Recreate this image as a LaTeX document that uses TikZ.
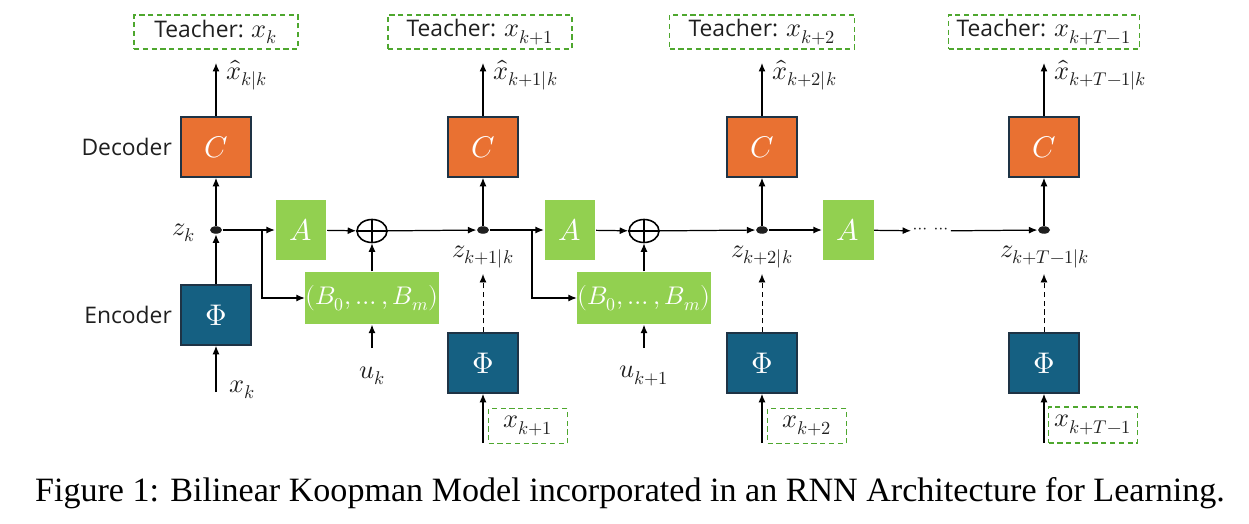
\documentclass[tikz,border=0pt]{standalone}
\usepackage{amsmath}
\usepackage{fontspec}
\usepackage{unicode-math}
\setmainfont{Liberation Serif}
\setsansfont{Open Sans}
\setmathfont{Latin Modern Math}
\usetikzlibrary{arrows.meta, positioning, shapes.geometric}
\definecolor{decOrange}{HTML}{E97132}
\definecolor{encBlue}{HTML}{156082}
\definecolor{koopGreen}{HTML}{92D050}
\definecolor{teachGreen}{HTML}{4EA72E}
\definecolor{boxEdge}{HTML}{1E3345}
\definecolor{mainBlack}{gray}{0.12}
\newcommand{\mbig}[1]{{\fontsize{15}{17}\selectfont$#1$}}

\begin{document}
\begin{tikzpicture}[x=0.02cm, y=-0.02cm, >={Latex[length=1.7mm,width=1.4mm]},
    line width=0.7pt, font=\sffamily\fontsize{13}{15}\selectfont,
    decbox/.style={draw=boxEdge, line width=0.9pt, fill=decOrange, text=white, minimum width=1.4cm, minimum height=1.2cm, font=\fontsize{17}{19}\selectfont},
    encbox/.style={draw=boxEdge, line width=0.9pt, fill=encBlue, text=white, minimum width=1.4cm, minimum height=1.2cm, font=\fontsize{17}{19}\selectfont},
    abox/.style={fill=koopGreen, text=white, minimum width=1.02cm, minimum height=1.22cm, font=\fontsize{17}{19}\selectfont},
    bbox/.style={fill=koopGreen, text=white, minimum width=2.44cm, minimum height=1.04cm, inner sep=0pt, font=\fontsize{14.5}{17}\selectfont},
    teacher/.style={draw=teachGreen, densely dashed, line width=0.9pt, text=mainBlack, minimum height=0.68cm, inner sep=2pt},
    junction/.style={ellipse, fill=mainBlack, inner sep=0pt, minimum width=0.24cm, minimum height=0.15cm},
    adder/.style={ellipse, draw, line width=0.9pt, minimum width=0.6cm, minimum height=0.46cm, inner sep=0pt},
    lbl/.style={text=mainBlack, inner sep=1pt, font=\fontsize{15}{17}\selectfont}]
    \useasboundingbox (0,0) rectangle (1249,524);

    % Teacher targets
    \node[teacher, minimum width=3.28cm] (T1) at (216,32) {Teacher: \mbig{x_k}};
    \node[teacher, minimum width=3.68cm] (T2) at (480,32) {Teacher: \mbig{x_{k+1}}};
    \node[teacher, minimum width=3.70cm] (T3) at (762,32) {Teacher: \mbig{x_{k+2}}};
    \node[teacher, minimum width=3.82cm] (T4) at (1044,32) {Teacher: \mbig{x_{k+T-1}}};

    % Decoders
    \node[decbox] (C1) at (216,147) {$C$};
    \node[decbox] (C2) at (483,147) {$C$};
    \node[decbox] (C3) at (762,147) {$C$};
    \node[decbox] (C4) at (1044,147) {$C$};
    \node[lbl, font=\sffamily\fontsize{13}{15}\selectfont, left=0.12cm of C1] (dec) {Decoder};

    % Latent states
    \node[junction] (J1) at (216,230) {};
    \node[junction] (J2) at (483,230) {};
    \node[junction] (J3) at (762,230) {};
    \node[junction] (J4) at (1044,230) {};
    \node[lbl, anchor=east] (z1) at (198,233) {$z_k$};
    \node[lbl] (z2) at (483,257) {$z_{k+1|k}$};
    \node[lbl] (z3) at (762,257) {$z_{k+2|k}$};
    \node[lbl] (z4) at (1045,257) {$z_{k+T-1|k}$};

    % Koopman blocks
    \node[abox] (A1) at (301,230) {$A$};
    \node[abox] (A2) at (570,230) {$A$};
    \node[abox] (A3) at (848,230) {$A$};
    \node[adder] (S1) at (372,231) {};
    \node[adder] (S2) at (644,231) {};
    \draw[line width=0.9pt] (S1.north) -- (S1.south) (S1.west) -- (S1.east);
    \draw[line width=0.9pt] (S2.north) -- (S2.south) (S2.west) -- (S2.east);
    \node[bbox] (B1) at (372,298) {$(B_0,\ldots,B_m)$};
    \node[bbox] (B2) at (644,298) {$(B_0,\ldots,B_m)$};
    \node[lbl, font=\fontsize{10}{12}\selectfont] (dots) at (931,231) {$\cdots\;\cdots$};

    % Encoders
    \node[encbox] (E1) at (216,315) {$\Phi$};
    \node[encbox] (E2) at (483,363) {$\Phi$};
    \node[encbox] (E3) at (762,363) {$\Phi$};
    \node[encbox] (E4) at (1044,363) {$\Phi$};
    \node[lbl, font=\sffamily\fontsize{13}{15}\selectfont, left=0.12cm of E1] (enc) {Encoder};

    % Inputs
    \node[lbl] (x1) at (242,390) {$x_k$};
    \node[lbl] (u1) at (372,376) {$u_k$};
    \node[lbl] (u2) at (644,376) {$u_{k+1}$};
    \node[teacher, minimum width=1.58cm, minimum height=0.7cm] (X2) at (528,426) {\mbig{x_{k+1}}};
    \node[teacher, minimum width=1.58cm, minimum height=0.7cm] (X3) at (807,426) {\mbig{x_{k+2}}};
    \node[teacher, minimum width=1.78cm, minimum height=0.72cm] (X4) at (1093,425) {\mbig{x_{k+T-1}}};

    % Outputs
    \coordinate (o1) at (216,63);
    \coordinate (o2) at (483,63);
    \coordinate (o3) at (762,63);
    \coordinate (o4) at (1044,63);
    \node[lbl, anchor=west] (h1) at (224,75) {$\hat{x}_{k|k}$};
    \node[lbl, anchor=west] (h2) at (491,75) {$\hat{x}_{k+1|k}$};
    \node[lbl, anchor=west] (h3) at (770,75) {$\hat{x}_{k+2|k}$};
    \node[lbl, anchor=west] (h4) at (1052,75) {$\hat{x}_{k+T-1|k}$};
    \draw[->] (C1) -- (o1);
    \draw[->] (C2) -- (o2);
    \draw[->] (C3) -- (o3);
    \draw[->] (C4) -- (o4);
    \draw[->] (J1) -- (C1);
    \draw[->] (J2) -- (C2);
    \draw[->] (J3) -- (C3);
    \draw[->] (J4) -- (C4);

    % First step
    \coordinate (i1) at (216,392);
    \coordinate (br1) at (262,230);
    \coordinate (in1) at (372,348);
    \draw[->] (i1) -- (E1);
    \draw[->] (E1) -- (J1);
    \draw[->] (J1) -- (A1);
    \draw[->] (br1) |- (B1.west);
    \draw[->] (A1) -- (S1);
    \draw[->] (in1) -- (B1);
    \draw[->] (B1) -- (S1);
    \draw[->] (S1) -- (J2);

    % Second step
    \coordinate (br2) at (532,230);
    \coordinate (in2) at (644,348);
    \draw[->] (J2) -- (A2);
    \draw[->] (br2) |- (B2.west);
    \draw[->] (A2) -- (S2);
    \draw[->] (in2) -- (B2);
    \draw[->] (B2) -- (S2);
    \draw[->] (S2) -- (J3);

    % Remaining steps
    \draw[->] (J3) -- (A3);
    \draw[->] (A3) -- (dots);
    \draw[->] (dots) -- (J4);

    % Encoded teacher inputs
    \coordinate (i2) at (483,443);
    \coordinate (i3) at (762,443);
    \coordinate (i4) at (1044,443);
    \coordinate (d2) at (483,274);
    \coordinate (d3) at (762,274);
    \coordinate (d4) at (1044,274);
    \draw[->] (i2) -- (E2);
    \draw[->] (i3) -- (E3);
    \draw[->] (i4) -- (E4);
    \draw[->, densely dashed, line width=0.5pt] (E2) -- (d2);
    \draw[->, densely dashed, line width=0.5pt] (E3) -- (d3);
    \draw[->, densely dashed, line width=0.5pt] (E4) -- (d4);

    \node[font=\rmfamily\fontsize{19.4}{23}\selectfont, text=black] (cap) at (630,493)
        {Figure 1: Bilinear Koopman Model incorporated in an RNN Architecture for Learning.};
\end{tikzpicture}
\end{document}
